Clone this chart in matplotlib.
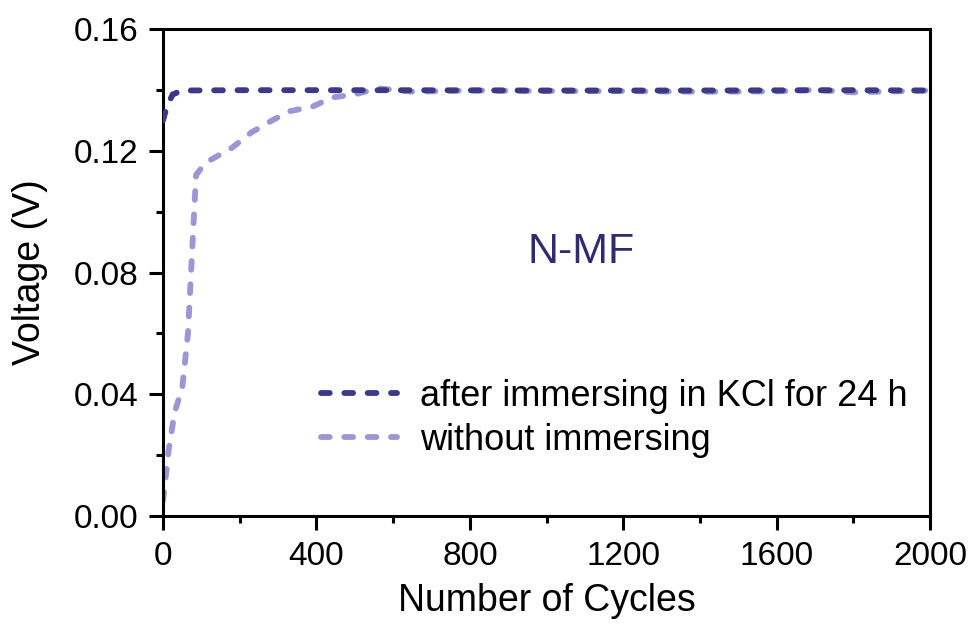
import matplotlib
matplotlib.use("Agg")
import matplotlib.pyplot as plt
from matplotlib.ticker import MultipleLocator

plt.rcParams["font.family"] = ["Liberation Sans", "DejaVu Sans"]

# ── data ─────────────────────────────────────────────
cycles_kcl = [0, 10, 25, 50, 200, 600, 1000, 1400, 1800, 2000]
volt_kcl = [0.130, 0.1345, 0.1385, 0.1398, 0.1399, 0.1399, 0.1398, 0.1398, 0.1399, 0.1398]

cycles_raw = [0, 15, 30, 50, 65, 75, 86, 110, 180, 230, 285, 330, 390, 440, 500,
              560, 650, 800, 1000, 1200, 1400, 1600, 1700, 1800, 2000]
volt_raw = [0.005, 0.022, 0.034, 0.042, 0.060, 0.085, 0.112, 0.116, 0.121, 0.126,
            0.130, 0.133, 0.1345, 0.1375, 0.1385, 0.1405, 0.1394, 0.1398, 0.1396,
            0.1396, 0.1394, 0.1395, 0.1400, 0.1392, 0.1398]

DARK = "#3d3989"
LIGHT = "#9b97d5"

fig = plt.figure(figsize=(9.74, 6.24), dpi=100)
ax = fig.add_axes([0.1674, 0.1731, 0.7874, 0.7804])

dash = (0, (1.5, 2.5))
lw = 4.2
ax.plot(cycles_kcl, volt_kcl, color=DARK, lw=lw, linestyle=dash,
        dash_capstyle="round", label="after immersing in KCl for 24 h", zorder=3)
ax.plot(cycles_raw, volt_raw, color=LIGHT, lw=lw, linestyle=dash,
        dash_capstyle="round", label="without immersing", zorder=2)

ax.set_xlim(0, 2000)
ax.set_ylim(0, 0.16)
ax.xaxis.set_major_locator(MultipleLocator(400))
ax.xaxis.set_minor_locator(MultipleLocator(200))
ax.yaxis.set_major_locator(MultipleLocator(0.04))
ax.yaxis.set_minor_locator(MultipleLocator(0.02))
ax.yaxis.set_major_formatter(plt.FormatStrFormatter("%.2f"))

ax.tick_params(which="major", direction="out", length=10, width=2.2, labelsize=24, pad=8)
ax.tick_params(which="minor", direction="out", length=5, width=2.2)
for s in ax.spines.values():
    s.set_linewidth(2.2)

ax.set_xlabel("Number of Cycles", fontsize=27, labelpad=8)
ax.set_ylabel("Voltage (V)", fontsize=27, labelpad=18)

ax.text(1090, 0.0867, "N-MF", fontsize=31, color="#2f2b6e", ha="center", va="center")

ax.legend(loc="lower left", bbox_to_anchor=(0.206, 0.119), frameon=False, fontsize=26,
          handlelength=2.1, handletextpad=0.63, labelspacing=0.26,
          borderaxespad=0, borderpad=0)

fig.savefig("out.png", dpi=100)
